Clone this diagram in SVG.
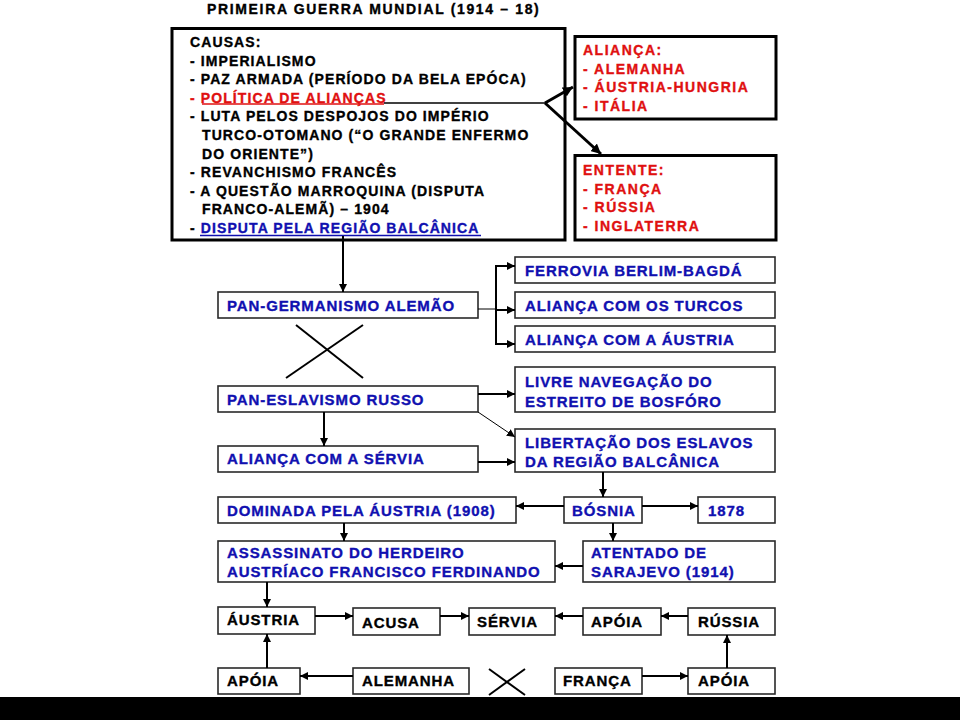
<svg xmlns="http://www.w3.org/2000/svg" width="960" height="720" viewBox="0 0 960 720">
<style>
text{font-family:"Liberation Sans",Arial,sans-serif;font-weight:bold;stroke-width:0.35px}
.t{font-size:14px;letter-spacing:1.65px;fill:#000;stroke:#000}
.c{font-size:14px;letter-spacing:1.1px;fill:#000;stroke:#000}
.r{fill:#e01010;stroke:#e01010}
.b{fill:#1010b0;stroke:#1010b0}
.a{font-size:14px;letter-spacing:1.5px;fill:#e01010;stroke:#e01010}
.f{font-size:15px;letter-spacing:0.9px;fill:#1010b0;stroke:#1010b0}
.k{font-size:15px;letter-spacing:0.9px;fill:#000;stroke:#000}
.big{fill:#fff;stroke:#000;stroke-width:3}
.box{fill:#fff;stroke:#2a2a2a;stroke-width:1.6}
.ln{stroke:#000;stroke-width:2;fill:none}
.thin{stroke:#000;stroke-width:1;fill:none}
.thick{stroke:#000;stroke-width:3;fill:none}
</style>
<defs>
<marker id="ah" markerUnits="userSpaceOnUse" markerWidth="8" markerHeight="8" refX="8" refY="4" orient="auto"><path d="M0,0 L8,4 L0,8 z" fill="#000"/></marker>
<marker id="ahb" markerUnits="userSpaceOnUse" markerWidth="10" markerHeight="10" refX="10" refY="5" orient="auto"><path d="M0,0 L10,5 L0,10 z" fill="#000"/></marker>
</defs>
<rect width="960" height="720" fill="#fff"/>
<text class="t" x="207" y="14">PRIMEIRA GUERRA MUNDIAL (1914 – 18)</text>

<g id="causas">
<rect class="big" x="172" y="28.5" width="393" height="211.5"/>
<text class="c" x="190" y="47">CAUSAS:</text>
<text class="c" x="190" y="65.6">- IMPERIALISMO</text>
<text class="c" x="190" y="84.2">- PAZ ARMADA (PERÍODO DA BELA EPÓCA)</text>
<text class="c r" x="190" y="102.8">- POLÍTICA DE ALIANÇAS</text>
<line x1="202" y1="104" x2="384" y2="104" stroke="#e01010" stroke-width="1.6"/>
<text class="c" x="190" y="121.4">- LUTA PELOS DESPOJOS DO IMPÉRIO</text>
<text class="c" x="202" y="140">TURCO-OTOMANO (“O GRANDE ENFERMO</text>
<text class="c" x="202" y="158.6">DO ORIENTE”)</text>
<text class="c" x="190" y="177.2">- REVANCHISMO FRANCÊS</text>
<text class="c" x="190" y="195.8">- A QUESTÃO MARROQUINA (DISPUTA</text>
<text class="c" x="202" y="214.4">FRANCO-ALEMÃ) – 1904</text>
<text class="c" x="190" y="233">- <tspan class="b">DISPUTA PELA REGIÃO BALCÂNICA</tspan></text>
<line x1="200" y1="235.5" x2="481" y2="235.5" stroke="#1010b0" stroke-width="1.6"/>
</g>

<g id="alianca">
<rect class="big" x="575" y="36.5" width="201" height="82.5"/>
<text class="a" x="583" y="55">ALIANÇA:</text>
<text class="a" x="583" y="73.5">- ALEMANHA</text>
<text class="a" x="583" y="92">- ÁUSTRIA-HUNGRIA</text>
<text class="a" x="583" y="110.5">- ITÁLIA</text>
</g>
<g id="entente">
<rect class="big" x="575" y="155.5" width="201" height="84.5"/>
<text class="a" x="583" y="175">ENTENTE:</text>
<text class="a" x="583" y="193.5">- FRANÇA</text>
<text class="a" x="583" y="212">- RÚSSIA</text>
<text class="a" x="583" y="230.5">- INGLATERRA</text>
</g>

<g id="pangerm"><rect class="box" x="218" y="292" width="260" height="26"/><text class="f" x="227" y="311">PAN-GERMANISMO ALEMÃO</text></g>
<g id="ferrovia"><rect class="box" x="515" y="257" width="260" height="26"/><text class="f" x="525" y="276">FERROVIA BERLIM-BAGDÁ</text></g>
<g id="turcos"><rect class="box" x="515" y="292" width="260" height="26"/><text class="f" x="525" y="310.5">ALIANÇA COM OS TURCOS</text></g>
<g id="austria1"><rect class="box" x="515" y="326" width="260" height="26"/><text class="f" x="525" y="344.5">ALIANÇA COM A ÁUSTRIA</text></g>
<g id="panesl"><rect class="box" x="218" y="386" width="260" height="26"/><text class="f" x="227" y="404.5">PAN-ESLAVISMO RUSSO</text></g>
<g id="livre"><rect class="box" x="515" y="367" width="260" height="45"/><text class="f" x="525" y="387">LIVRE NAVEGAÇÃO DO</text><text class="f" x="525" y="407">ESTREITO DE BOSFÓRO</text></g>
<g id="servia1"><rect class="box" x="218" y="446" width="260" height="26"/><text class="f" x="227" y="464">ALIANÇA COM A SÉRVIA</text></g>
<g id="libert"><rect class="box" x="515" y="429" width="260" height="43"/><text class="f" x="525" y="448">LIBERTAÇÃO DOS ESLAVOS</text><text class="f" x="525" y="467">DA REGIÃO BALCÂNICA</text></g>
<g id="dominada"><rect class="box" x="218" y="497" width="298" height="26"/><text class="f" x="227" y="516">DOMINADA PELA ÁUSTRIA (1908)</text></g>
<g id="bosnia"><rect class="box" x="564" y="497" width="78" height="26"/><text class="f" x="572" y="516">BÓSNIA</text></g>
<g id="y1878"><rect class="box" x="698" y="497" width="77" height="26"/><text class="f" x="708" y="516">1878</text></g>
<g id="assassinato"><rect class="box" x="218" y="541" width="337" height="41"/><text class="f" x="227" y="558">ASSASSINATO DO HERDEIRO</text><text class="f" x="227" y="577">AUSTRÍACO FRANCISCO FERDINANDO</text></g>
<g id="atentado"><rect class="box" x="583" y="541" width="192" height="41"/><text class="f" x="591" y="558">ATENTADO DE</text><text class="f" x="591" y="577">SARAJEVO (1914)</text></g>
<g id="austria2"><rect class="box" x="218" y="607" width="97" height="27"/><text class="k" x="227" y="625">ÁUSTRIA</text></g>
<g id="acusa"><rect class="box" x="353" y="608" width="87" height="27"/><text class="k" x="362" y="628">ACUSA</text></g>
<g id="servia2"><rect class="box" x="469" y="608" width="86" height="27"/><text class="k" x="477" y="627">SÉRVIA</text></g>
<g id="apoia1"><rect class="box" x="583" y="608" width="78" height="27"/><text class="k" x="591" y="627">APÓIA</text></g>
<g id="russia"><rect class="box" x="688" y="608" width="87" height="27"/><text class="k" x="698" y="627">RÚSSIA</text></g>
<g id="apoia2"><rect class="box" x="218" y="668" width="82" height="26"/><text class="k" x="227" y="686">APÓIA</text></g>
<g id="alemanha"><rect class="box" x="353" y="668" width="116" height="26"/><text class="k" x="362" y="686">ALEMANHA</text></g>
<g id="franca"><rect class="box" x="555" y="668" width="87" height="26"/><text class="k" x="563" y="686">FRANÇA</text></g>
<g id="apoia3"><rect class="box" x="688" y="668" width="87" height="26"/><text class="k" x="698" y="686">APÓIA</text></g>

<g id="connectors">
<line x1="384" y1="103" x2="546" y2="103" stroke="#000" stroke-width="1.3"/>
<line class="thick" x1="545" y1="103" x2="573" y2="87" marker-end="url(#ahb)"/>
<line class="thick" x1="545" y1="103" x2="601" y2="154" marker-end="url(#ahb)"/>
<line class="ln" x1="343" y1="236" x2="343" y2="292" marker-end="url(#ah)"/>
<line class="thin" x1="478" y1="309" x2="496" y2="309"/>
<polyline class="ln" points="515,266 496,266 496,344 515,344"/>
<line class="ln" x1="496" y1="266" x2="515" y2="266" marker-end="url(#ah)"/>
<line class="ln" x1="496" y1="344" x2="515" y2="344" marker-end="url(#ah)"/>
<line class="ln" x1="496" y1="310" x2="515" y2="310" marker-end="url(#ah)"/>
<line class="ln" x1="296" y1="325" x2="363" y2="378" stroke-width="2.5"/>
<line class="ln" x1="363" y1="325" x2="286" y2="378" stroke-width="2.5"/>
<line class="ln" x1="478" y1="394" x2="515" y2="394" marker-end="url(#ah)"/>
<line class="thin" x1="478" y1="412" x2="515" y2="437" marker-end="url(#ah)"/>
<line class="ln" x1="324" y1="412" x2="324" y2="446" marker-end="url(#ah)"/>
<line class="ln" x1="478" y1="462" x2="515" y2="462" marker-end="url(#ah)"/>
<line class="ln" x1="603" y1="472" x2="603" y2="497" marker-end="url(#ah)"/>
<line class="ln" x1="564" y1="506" x2="516" y2="506" marker-end="url(#ah)"/>
<line class="ln" x1="642" y1="506" x2="698" y2="506" marker-end="url(#ah)"/>
<line class="ln" x1="344" y1="523" x2="344" y2="541" marker-end="url(#ah)"/>
<line class="ln" x1="613" y1="523" x2="613" y2="541" marker-end="url(#ah)"/>
<line class="ln" x1="583" y1="566" x2="555" y2="566" marker-end="url(#ah)"/>
<line class="ln" x1="267" y1="582" x2="267" y2="607" marker-end="url(#ah)"/>
<line class="ln" x1="315" y1="616" x2="353" y2="616" marker-end="url(#ah)"/>
<line class="ln" x1="440" y1="616" x2="469" y2="616" marker-end="url(#ah)"/>
<line class="ln" x1="688" y1="616" x2="661" y2="616" marker-end="url(#ah)"/>
<line class="ln" x1="583" y1="616" x2="555" y2="616" marker-end="url(#ah)"/>
<line class="ln" x1="353" y1="676" x2="300" y2="676" marker-end="url(#ah)"/>
<line class="ln" x1="267" y1="668" x2="267" y2="634" marker-end="url(#ah)"/>
<line class="ln" x1="642" y1="676" x2="688" y2="676" marker-end="url(#ah)"/>
<line class="ln" x1="727" y1="668" x2="727" y2="635" marker-end="url(#ah)"/>
<line class="ln" x1="489" y1="669" x2="525" y2="695"/>
<line class="ln" x1="525" y1="669" x2="489" y2="695"/>
</g>
<rect x="0" y="697" width="960" height="23" fill="#000"/>
</svg>
